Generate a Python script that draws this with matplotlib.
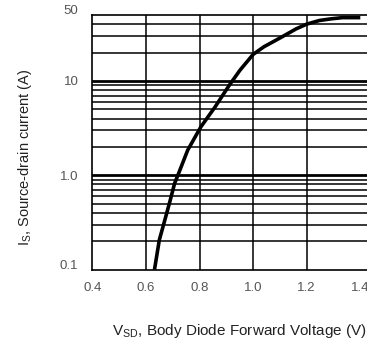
import numpy as np
import matplotlib
matplotlib.use('Agg')
import matplotlib.pyplot as plt
from matplotlib import font_manager
from matplotlib.transforms import ScaledTranslation

# pick a narrow font if available
names = set(f.name for f in font_manager.fontManager.ttflist)
font = 'Liberation Sans Narrow' if 'Liberation Sans Narrow' in names else 'Liberation Sans'
plt.rcParams['font.family'] = [font, 'DejaVu Sans']
plt.rcParams['mathtext.fontset'] = 'custom'
plt.rcParams['mathtext.rm'] = font

# curve: Vsd (V) vs Is (A)
vsd = [0.632, 0.650, 0.674, 0.691, 0.707, 0.721, 0.756, 0.805, 0.858, 0.911,
       0.951, 1.0, 1.04, 1.10, 1.161, 1.20, 1.247, 1.29, 1.334, 1.40]
i_s = [0.1, 0.206, 0.364, 0.548, 0.82, 1.03, 1.85, 3.26, 5.3, 9.0,
       13.0, 19.1, 23.0, 28.5, 35.7, 40.0, 43.7, 45.5, 46.9, 46.9]

x_ticks = [0.4, 0.6, 0.8, 1.0, 1.2, 1.4]
x_labels = ['0.4', '0.6', '0.8', '1.0', '1.2', '1.4']
y_ticks = [0.1, 1.0, 10, 50]
y_labels = ['0.1', '1.0', '10', '50']

fig = plt.figure(figsize=(3.67, 3.47), dpi=100)
W, H = 367, 347
ax = fig.add_axes([92.3 / W, 1 - 269.7 / H, (367 - 92.3) / W, (269.7 - 15) / H])
ax.set_yscale('log')
ax.set_xlim(0.4, 0.4 + (367 - 92.3) / 268.0)
ax.set_ylim(0.1, 50)

# horizontal grid
minor = [k * d for d in [0.1, 1, 10] for k in range(2, 10) if k * d < 50]
for y in minor:
    ax.axhline(y, color='black', lw=1.1)
for y in [1.0, 10]:
    ax.axhline(y, color='black', lw=2.0)
for x in [0.6, 0.8, 1.0, 1.2]:
    ax.axvline(x, color='black', lw=1.1)

ax.plot(vsd, i_s, color='black', lw=2.6, solid_capstyle='butt', solid_joinstyle='round')

ax.set_xticks(x_ticks)
ax.set_xticklabels(x_labels)
ax.set_yticks(y_ticks)
ax.set_yticklabels(y_labels)
ax.minorticks_off()
ax.tick_params(length=0, labelsize=9.5, colors='#555555', pad=9)
ax.tick_params(axis='y', pad=10)
# the end labels sit a bit higher in the original
for lab in ax.get_yticklabels():
    if lab.get_text() in ('50', '0.1'):
        lab.set_transform(lab.get_transform() + ScaledTranslation(0, 5 / 100, fig.dpi_scale_trans))
for s in ['left', 'bottom', 'top']:
    ax.spines[s].set_linewidth(1.2)
ax.spines['right'].set_visible(False)

fig.text(239 / W, 1 - 331 / H, r'V$_{\rm SD}$, Body Diode Forward Voltage (V)',
         ha='center', va='center', fontsize=11, color='#222222')
fig.text(25 / W, 1 - 157 / H, r'I$_{\rm S}$, Source-drain current (A)',
         ha='center', va='center', rotation=90, fontsize=10.5, color='#222222')

fig.savefig('out.png', dpi=100)
